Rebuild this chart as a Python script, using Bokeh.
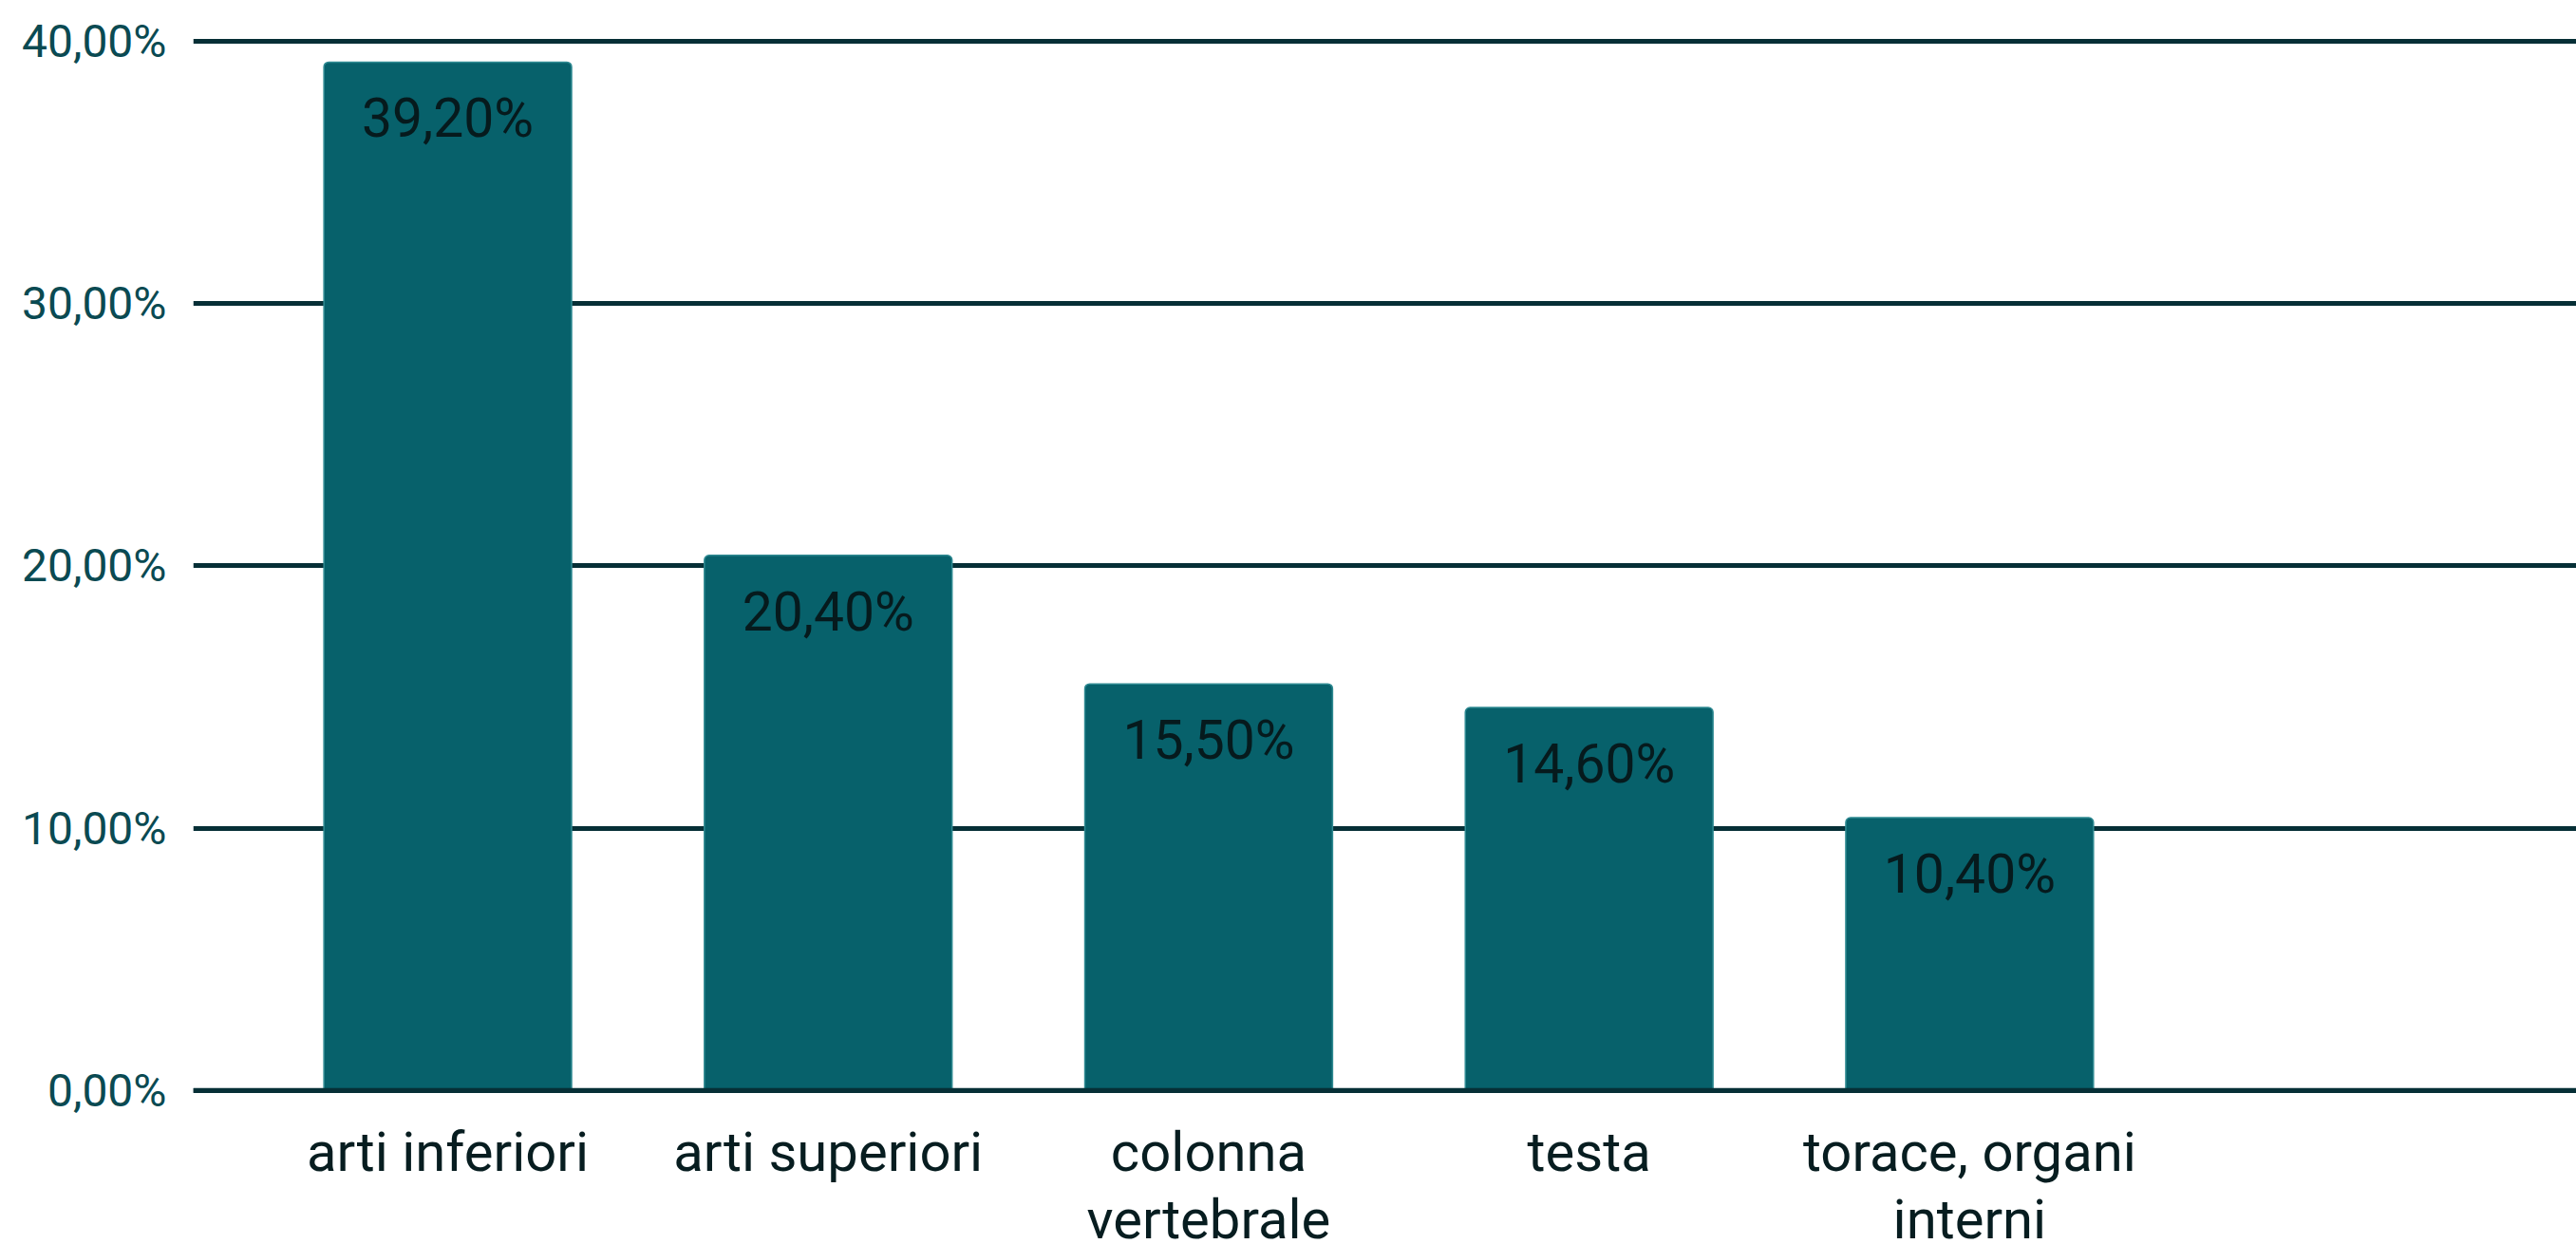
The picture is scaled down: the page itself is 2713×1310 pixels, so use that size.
from bokeh.plotting import figure
from bokeh.models import Range1d, FixedTicker, ColumnDataSource, Span
from bokeh.core.properties import value
from bokeh.embed import file_html
from bokeh.resources import INLINE

# ---- data ----
categories = ["arti inferiori", "arti superiori", "colonna\nvertebrale", "testa", "torace, organi\ninterni"]
values = [39.2, 20.4, 15.5, 14.6, 10.4]
value_labels = ["39,20%", "20,40%", "15,50%", "14,60%", "10,40%"]
y_ticks = [0, 10, 20, 30, 40]
y_tick_labels = ["0,00%", "10,00%", "20,00%", "30,00%", "40,00%"]

xs = list(range(1, len(categories) + 1))
src = ColumnDataSource(dict(x=xs, top=values, lab=value_labels,
                            base=[0] * len(xs), cat=categories))

BAR = "#07616b"
GRID = "#062f36"

# the frame reaches down to the bottom so that the category texts below 0 stay visible
p = figure(width=2713, height=1310, output_backend="svg", toolbar_location=None,
           x_range=Range1d(0.331, 6.595), y_range=Range1d(-5.87, 40.5),
           min_border_left=203, min_border_right=0, min_border_top=29, min_border_bottom=0)
p.outline_line_color = None
p.background_fill_color = "white"
p.border_fill_color = "white"

p.vbar(x="x", top="top", bottom=0, width=0.651, source=src, fill_color=BAR,
       line_color="#2f8a92", line_width=1.5, border_radius=(5, 5, 0, 0))

# value labels inside bars
p.text(x="x", y="top", text="lab", source=src, text_align="center", text_baseline="top",
       y_offset=26, text_font=value("Roboto"), text_font_size="57px", text_color="#061a1d")

# category labels below the zero line
p.text(x="x", y="base", text="cat", source=src, text_align="center", text_baseline="top",
       y_offset=31, text_font=value("Roboto"), text_font_size="58px", text_color="#071d20",
       text_line_height=1.04)

zero = Span(location=0, dimension="width", line_color=GRID, line_width=5, level="overlay")
p.add_layout(zero)

# axes
p.xaxis.visible = False

p.yaxis.ticker = FixedTicker(ticks=y_ticks)
p.yaxis.major_label_overrides = {t: l for t, l in zip(y_ticks, y_tick_labels)}
p.yaxis.axis_line_color = None
p.yaxis.major_tick_line_color = None
p.yaxis.minor_tick_line_color = None
p.yaxis.major_tick_out = 0
p.yaxis.major_label_text_font = "Roboto"
p.yaxis.major_label_text_font_size = "48px"
p.yaxis.major_label_text_color = "#0a4a52"
p.yaxis.major_label_standoff = 28

p.xgrid.grid_line_color = None
p.ygrid.ticker = FixedTicker(ticks=y_ticks)
p.ygrid.grid_line_color = GRID
p.ygrid.grid_line_width = 5

open("out.html", "w").write(file_html(p, INLINE))
